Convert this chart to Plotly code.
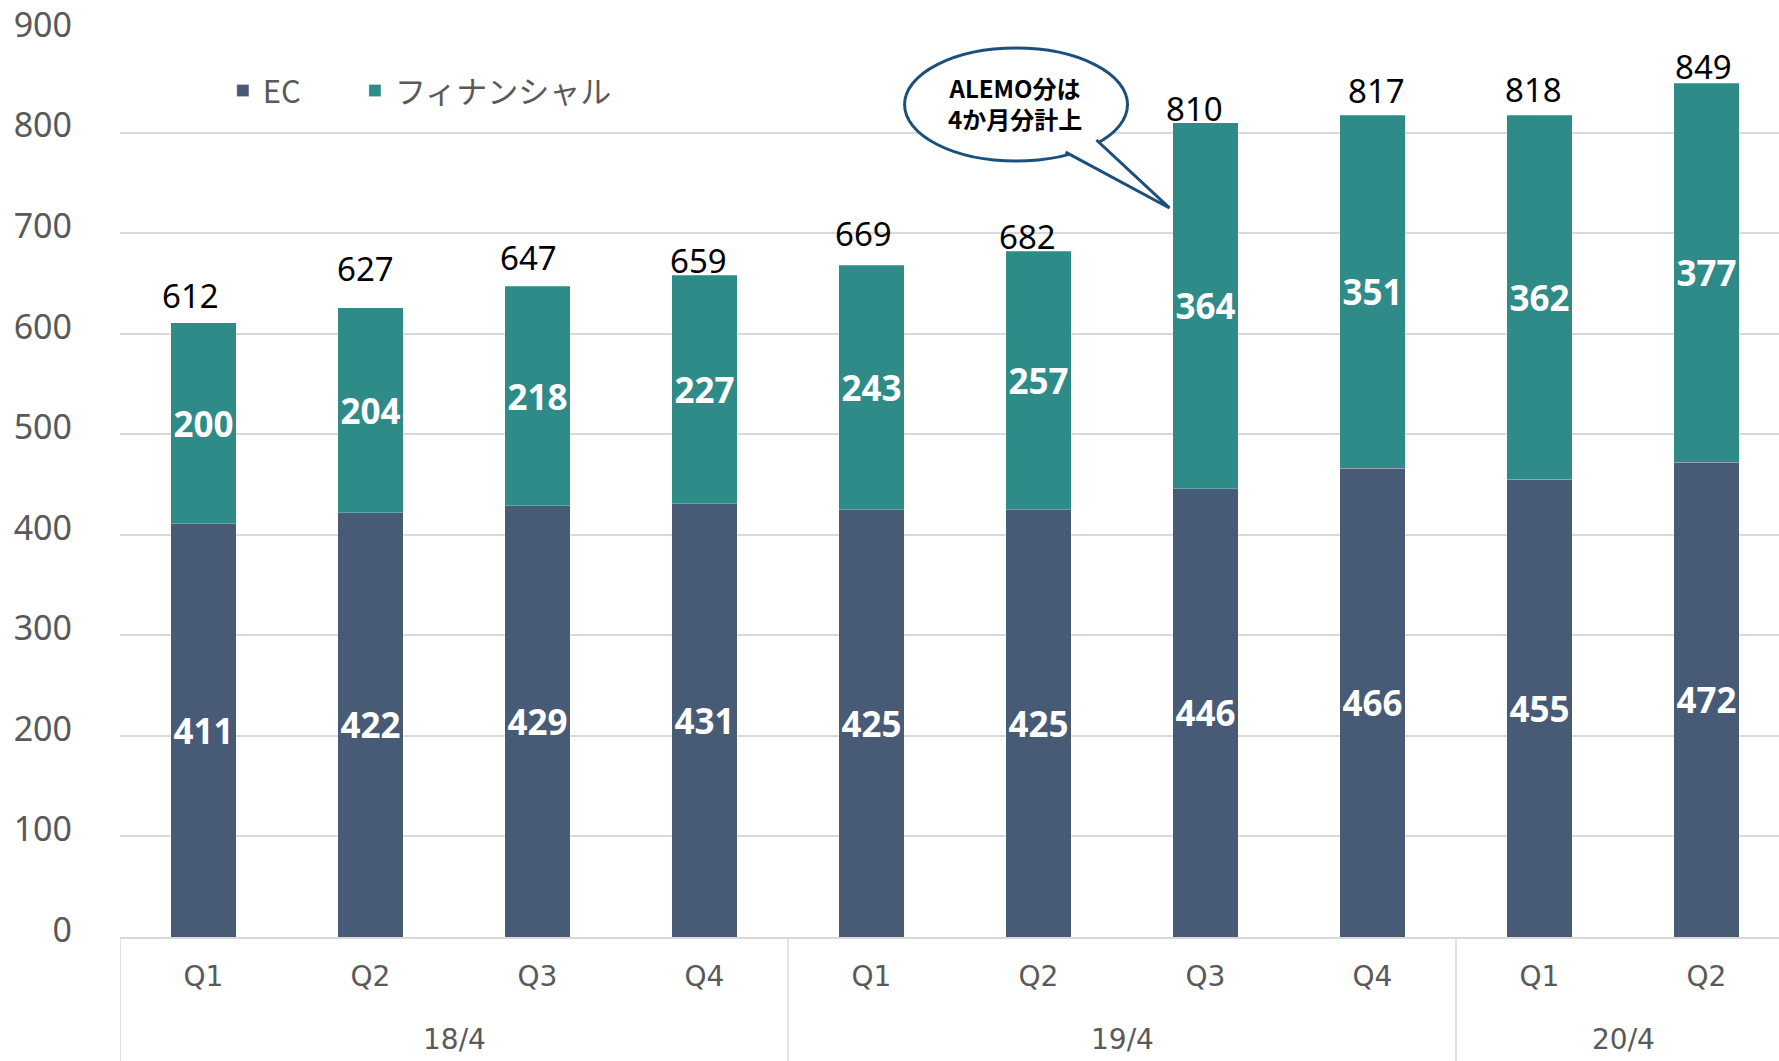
import plotly.graph_objects as go

# ---- data ----
periods = ["18/4", "18/4", "18/4", "18/4", "19/4", "19/4", "19/4", "19/4", "20/4", "20/4"]
quarters = ["Q1", "Q2", "Q3", "Q4", "Q1", "Q2", "Q3", "Q4", "Q1", "Q2"]
ec = [411, 422, 429, 431, 425, 425, 446, 466, 455, 472]
financial = [200, 204, 218, 227, 243, 257, 364, 351, 362, 377]
totals = [612, 627, 647, 659, 669, 682, 810, 817, 818, 849]
group_labels = ["18/4", "19/4", "20/4"]
y_ticks = [0, 100, 200, 300, 400, 500, 600, 700, 800, 900]

# ---- styles ----
EC_COLOR = "#475b76"
FIN_COLOR = "#2e8b88"
GRID = "#d9d9d9"
AXIS_TEXT = "#595959"
SANS = "Noto Sans, Noto Sans CJK JP, sans-serif"
CJK = "Noto Sans CJK JP, Noto Sans, sans-serif"
CAT_FONT = "DejaVu Sans, sans-serif"
BAR_W = 0.395
# pixel nudges of the hand-placed total labels in the original
total_label_dx = [-13, -5, -9, -6, -8, -11, -11, 4, -6, -3]
total_label_dy = [2, 14, 4, -11, 6, -10, -10, 0, 0, -8]

x = list(range(len(quarters)))

fig = go.Figure()
fig.add_trace(go.Bar(
    x=x, y=ec, name="EC", width=BAR_W, legend="legend",
    marker=dict(color=EC_COLOR, line=dict(color="rgba(255,255,255,0.25)", width=1)),
    text=ec, textposition="inside", insidetextanchor="middle", textangle=0,
    constraintext="none",
    textfont=dict(family=SANS, size=35, color="white", weight="bold"),
))
fig.add_trace(go.Bar(
    x=x, y=financial, name="フィナンシャル", width=BAR_W, legend="legend2",
    marker=dict(color=FIN_COLOR, line=dict(color="rgba(255,255,255,0.25)", width=1)),
    text=financial, textposition="inside", insidetextanchor="middle", textangle=0,
    constraintext="none",
    textfont=dict(family=SANS, size=35, color="white", weight="bold"),
))

# totals above stacks
for xi, t, dx, dy in zip(x, totals, total_label_dx, total_label_dy):
    fig.add_annotation(x=xi, y=t, xref="x", yref="y", text=str(t), showarrow=False,
                       yanchor="bottom", xshift=dx, yshift=dy,
                       font=dict(family=SANS, size=33, color="black"))

# group labels under quarter labels
group_centers = {}
for i, p in enumerate(periods):
    group_centers.setdefault(p, []).append(i)
for g in group_labels:
    idx = group_centers[g]
    fig.add_annotation(
        x=sum(idx) / len(idx), y=-0.113, xref="x", yref="paper",
        text=g, showarrow=False, yanchor="middle",
        font=dict(family=CAT_FONT, size=28, color=AXIS_TEXT),
    )

# dividers between groups (left edge and group boundaries)
boundaries = [group_centers[g][0] - 0.5 for g in group_labels]
for b in boundaries:
    fig.add_shape(type="line", xref="x", yref="paper", x0=b, x1=b, y0=0, y1=-0.14,
                  line=dict(color=GRID, width=1.5), layer="below")

# callout bubble
BUBBLE = "#1b4f7c"
fig.add_shape(type="circle", xref="x", yref="y", x0=4.198, x1=5.533, y0=771.7, y1=884,
              line=dict(color=BUBBLE, width=3), fillcolor="white", layer="above")
fig.add_shape(type="path", xref="x", yref="y",
              path="M 5.162,780.6 L 5.784,725 L 5.347,792.6",
              line=dict(color=BUBBLE, width=3), fillcolor="white", layer="above")
fig.add_annotation(x=4.862, y=829, xref="x", yref="y", showarrow=False,
                   text="<b>ALEMO分は<br>4か月分計上</b>",
                   font=dict(family=CJK, size=24, color="black"))

legend_common = dict(orientation="h", yanchor="middle", xanchor="left", y=0.935,
                     font=dict(family=CJK, size=31, color=AXIS_TEXT),
                     bgcolor="rgba(0,0,0,0)")

fig.update_layout(
    width=1779, height=1061,
    margin=dict(l=120, r=0, t=32, b=124, pad=0),
    barmode="stack",
    plot_bgcolor="white", paper_bgcolor="white",
    showlegend=True,
    legend=dict(x=0.062, **legend_common),
    legend2=dict(x=0.1416, **legend_common),
    xaxis=dict(
        range=[-0.5, -0.5 + 1659 / 167], tickmode="array", tickvals=x, ticktext=quarters,
        showgrid=False, zeroline=False, showline=True, linecolor=GRID, linewidth=1.5,
        ticks="", ticklabelstandoff=14,
        tickfont=dict(family=CAT_FONT, size=28, color=AXIS_TEXT),
    ),
    yaxis=dict(
        range=[0, 900], tickmode="array", tickvals=y_ticks,
        showgrid=True, gridcolor=GRID, gridwidth=1.5, zeroline=False, showline=False,
        ticks="", ticklabelstandoff=47, ticklabelshift=-7,
        tickfont=dict(family=SANS, size=34, color=AXIS_TEXT),
    ),
)

fig.write_html("out.html", config={"displayModeBar": False},
               post_script="document.body.style.margin='0';")
